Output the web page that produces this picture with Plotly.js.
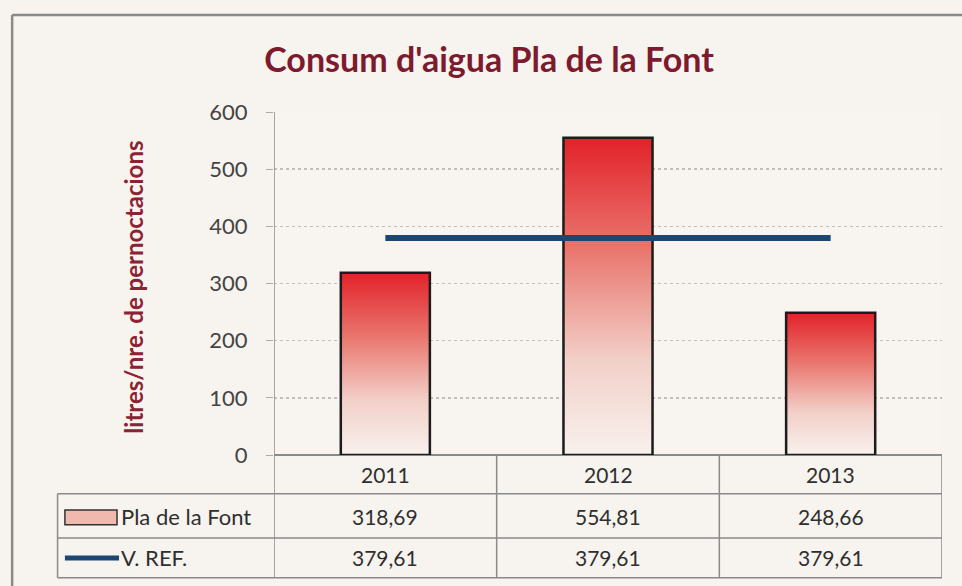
<!DOCTYPE html>
<html>
<head>
<meta charset="utf-8">
<script src="https://cdn.plot.ly/plotly-3.0.1.min.js"></script>
<style>
html,body{margin:0;padding:0;background:#f4f1ec;}
#chart{width:962px;height:586px;}
</style>
</head>
<body>
<div id="chart"></div>
<script>
const years = ['2011', '2012', '2013'];
const plaFont = [318.69, 554.81, 248.66];
const vRef = [379.61, 379.61, 379.61];
const seriesNames = ['Pla de la Font', 'V. REF.'];
const yTicks = [0, 100, 200, 300, 400, 500, 600];
const chartTitle = "Consum d'aigua Pla de la Font";
const yTitle = 'litres/nre. de pernoctacions';

const fmt = v => v.toFixed(2).replace('.', ',');
const FONT = 'Lato, "Open Sans", sans-serif';
const barGrad = [[0, '#f8f1ee'], [0.3, '#f2d0c8'], [0.65, '#e9766e'], [1, '#e2222a']];
const half = 0.2;

const traces = [];
plaFont.forEach((v, i) => {
  traces.push({
    type: 'scatter', mode: 'lines', fill: 'toself',
    x: [i - half, i - half, i + half, i + half, i - half],
    y: [0, v, v, 0, 0],
    line: {color: '#1c1c1c', width: 2.5},
    fillgradient: {type: 'vertical', colorscale: barGrad},
    showlegend: false, hoverinfo: 'skip'
  });
});
traces.push({
  type: 'scatter', mode: 'lines',
  x: years.map((_, i) => i), y: vRef,
  line: {color: '#1d4770', width: 6},
  showlegend: false, hoverinfo: 'skip'
});

const rowLines = [-0.113, -0.242, -0.358];
const rowMid = [-0.057, -0.178, -0.3];
const shapes = [];
const annotations = [];
const gridCol = '#8a8a8a';
rowLines.forEach(y => {
  shapes.push({type: 'line', xref: 'paper', yref: 'paper', x0: -0.324, x1: 1, y0: y, y1: y,
    line: {color: gridCol, width: 1.5}});
});
shapes.push({type: 'line', xref: 'paper', yref: 'paper', x0: -0.324, x1: -0.324, y0: rowLines[0], y1: rowLines[2],
  line: {color: gridCol, width: 1.5}});
[-0.5, 0.5, 1.5, 2.5].forEach(x => {
  shapes.push({type: 'line', xref: 'x', yref: 'paper', x0: x, x1: x, y0: 0, y1: rowLines[2],
    line: {color: gridCol, width: 1.5}});
});
shapes.push({type: 'line', xref: 'x', yref: 'paper', x0: -0.5, x1: -0.5, y0: 0, y1: 1,
  line: {color: gridCol, width: 1.5}});
shapes.push({type: 'line', xref: 'paper', yref: 'paper', x0: -0.392, x1: 1.04, y0: 1.283, y1: 1.283,
  line: {color: '#8a8a8a', width: 2.5}});
shapes.push({type: 'line', xref: 'paper', yref: 'paper', x0: -0.392, x1: -0.392, y0: 1.283, y1: -0.4,
  line: {color: '#8a8a8a', width: 2.5}});
shapes.push({type: 'rect', xref: 'paper', yref: 'paper', x0: -0.313, x1: -0.235, y0: -0.16, y1: -0.203,
  fillcolor: '#f0b9ad', line: {color: '#333', width: 1.5}});
shapes.push({type: 'line', xref: 'paper', yref: 'paper', x0: -0.313, x1: -0.232, y0: -0.3, y1: -0.3,
  line: {color: '#1d4770', width: 5}});

const cellFont = {family: FONT, size: 21, color: '#2f2f2f'};
years.forEach((yr, i) => {
  annotations.push({xref: 'x', yref: 'paper', x: i, y: rowMid[0], yanchor: 'middle', text: yr, showarrow: false, font: cellFont});
  annotations.push({xref: 'x', yref: 'paper', x: i, y: rowMid[1], yanchor: 'middle', text: fmt(plaFont[i]), showarrow: false, font: cellFont});
  annotations.push({xref: 'x', yref: 'paper', x: i, y: rowMid[2], yanchor: 'middle', text: fmt(vRef[i]), showarrow: false, font: cellFont});
});
const legFont = {family: FONT, size: 22, color: '#2f2f2f'};
annotations.push({xref: 'paper', yref: 'paper', x: -0.232, y: rowMid[1], xanchor: 'left', yanchor: 'middle',
  text: seriesNames[0], showarrow: false, font: legFont});
annotations.push({xref: 'paper', yref: 'paper', x: -0.232, y: rowMid[2], xanchor: 'left', yanchor: 'middle',
  text: seriesNames[1], showarrow: false, font: legFont});
annotations.push({xref: 'paper', yref: 'paper', x: -0.21, y: 0.49, xanchor: 'center', yanchor: 'middle',
  text: yTitle, textangle: -90, showarrow: false,
  font: {family: FONT, size: 24, color: '#8c2233', weight: 'bold'}});

const layout = {
  width: 962, height: 586,
  margin: {l: 274, r: 20, t: 112, b: 131},
  paper_bgcolor: '#f7f3ee',
  plot_bgcolor: '#f8f4ef',
  title: {text: '<b>' + chartTitle + '</b>', x: 0.322, xref: 'paper', xanchor: 'center',
    y: 0.898, yref: 'container', yanchor: 'middle',
    font: {family: FONT, size: 34, color: '#7d1a2d'}},
  xaxis: {range: [-0.5, 2.5], showgrid: false, zeroline: false, showticklabels: false, ticks: '', showline: false, fixedrange: true},
  yaxis: {range: [0, 600], tickvals: yTicks, ticktext: yTicks.map(String),
    showgrid: true, gridcolor: '#c2bfbb', griddash: 'dot', gridwidth: 1.5,
    zeroline: true, zerolinecolor: gridCol, zerolinewidth: 2,
    ticks: 'outside', ticklen: 7, tickcolor: '#aaa', ticklabelstandoff: 14,
    tickfont: {family: FONT, size: 22, color: '#444'}, showline: false, fixedrange: true},
  shapes: shapes,
  annotations: annotations,
  showlegend: false
};

Plotly.newPlot('chart', traces, layout, {staticPlot: true});
</script>
</body>
</html>
